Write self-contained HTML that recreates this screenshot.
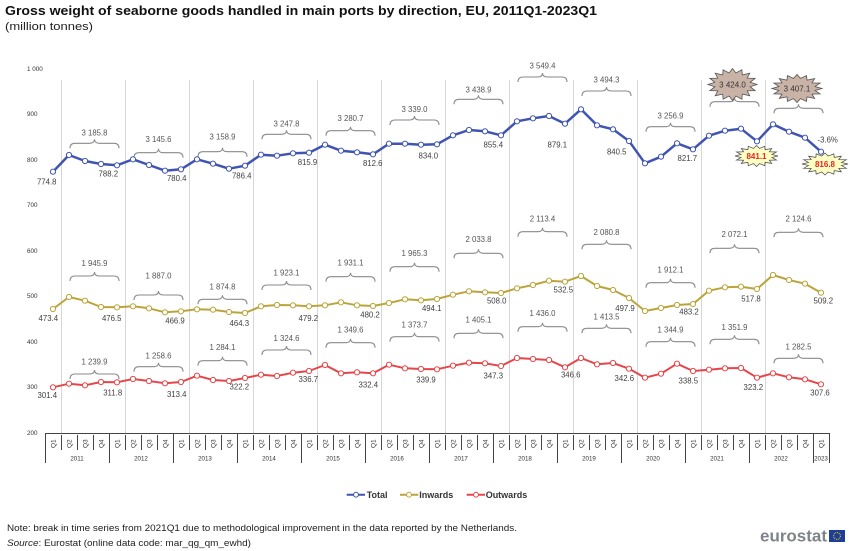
<!DOCTYPE html>
<html>
<head>
<meta charset="utf-8">
<style>
html,body{margin:0;padding:0;background:#fff;}
svg{display:block;font-family:"Liberation Sans",Arial,sans-serif;}
</style>
</head>
<body>
<svg width="850" height="551" viewBox="0 0 850 551" xmlns="http://www.w3.org/2000/svg">
<defs>
<marker id="mb" viewBox="-4 -4 8 8" markerWidth="8" markerHeight="8" refX="0" refY="0" markerUnits="userSpaceOnUse"><circle r="2.6" fill="#fff" stroke="#4054b2" stroke-width="1"/></marker>
<marker id="mg" viewBox="-4 -4 8 8" markerWidth="8" markerHeight="8" refX="0" refY="0" markerUnits="userSpaceOnUse"><circle r="2.6" fill="#fff" stroke="#bca43a" stroke-width="1"/></marker>
<marker id="mr" viewBox="-4 -4 8 8" markerWidth="8" markerHeight="8" refX="0" refY="0" markerUnits="userSpaceOnUse"><circle r="2.6" fill="#fff" stroke="#e6464a" stroke-width="1"/></marker>
</defs>

<!-- Title -->
<text x="5" y="15" font-size="13" font-weight="bold" fill="#111" textLength="592" lengthAdjust="spacingAndGlyphs">Gross weight of seaborne goods handled in main ports by direction, EU, 2011Q1-2023Q1</text>
<text x="5" y="30" font-size="11" fill="#222" textLength="88" lengthAdjust="spacingAndGlyphs">(million tonnes)</text>

<!-- Y labels -->
<g font-size="6.3" fill="#333">
<text x="27" y="71.2">1 000</text>
<text x="27" y="116.2">900</text>
<text x="27" y="162.2">800</text>
<text x="27" y="207.2">700</text>
<text x="27" y="253.2">600</text>
<text x="27" y="298.2">500</text>
<text x="27" y="344.2">400</text>
<text x="27" y="389.2">300</text>
<text x="27" y="435.2">200</text>
</g>

<!-- Vertical gridlines -->
<g stroke="#d6d6d6" stroke-width="1">
<path d="M61.5,80V433M125.5,80V433M189.5,80V433M253.5,80V433M317.5,80V433M381.5,80V433M445.5,80V433M509.5,80V433M573.5,80V433M637.5,80V433M701.5,80V433M765.5,80V433"/>
</g>

<!-- X axis -->
<g stroke="#444" stroke-width="1" fill="none">
<path d="M45,433.5H829.5"/>
<path d="M45.5,433V463M109.5,433V463M173.5,433V463M237.5,433V463M301.5,433V463M365.5,433V463M429.5,433V463M493.5,433V463M557.5,433V463M621.5,433V463M685.5,433V463M749.5,433V463M813.5,433V463M829.5,433V463"/>
<path d="M61.5,435V450M77.5,435V450M93.5,435V450M125.5,435V450M141.5,435V450M157.5,435V450M189.5,435V450M205.5,435V450M221.5,435V450M253.5,435V450M269.5,435V450M285.5,435V450M317.5,435V450M333.5,435V450M349.5,435V450M381.5,435V450M397.5,435V450M413.5,435V450M445.5,435V450M461.5,435V450M477.5,435V450M509.5,435V450M525.5,435V450M541.5,435V450M573.5,435V450M589.5,435V450M605.5,435V450M637.5,435V450M653.5,435V450M669.5,435V450M701.5,435V450M717.5,435V450M733.5,435V450M765.5,435V450M781.5,435V450M797.5,435V450"/>
</g>

<!-- Quarter labels -->
<g font-size="6.5" fill="#333">
<text transform="translate(55.5,448) rotate(-90)">Q1</text>
<text transform="translate(71.5,448) rotate(-90)">Q2</text>
<text transform="translate(87.5,448) rotate(-90)">Q3</text>
<text transform="translate(103.5,448) rotate(-90)">Q4</text>
<text transform="translate(119.5,448) rotate(-90)">Q1</text>
<text transform="translate(135.5,448) rotate(-90)">Q2</text>
<text transform="translate(151.5,448) rotate(-90)">Q3</text>
<text transform="translate(167.5,448) rotate(-90)">Q4</text>
<text transform="translate(183.5,448) rotate(-90)">Q1</text>
<text transform="translate(199.5,448) rotate(-90)">Q2</text>
<text transform="translate(215.5,448) rotate(-90)">Q3</text>
<text transform="translate(231.5,448) rotate(-90)">Q4</text>
<text transform="translate(247.5,448) rotate(-90)">Q1</text>
<text transform="translate(263.5,448) rotate(-90)">Q2</text>
<text transform="translate(279.5,448) rotate(-90)">Q3</text>
<text transform="translate(295.5,448) rotate(-90)">Q4</text>
<text transform="translate(311.5,448) rotate(-90)">Q1</text>
<text transform="translate(327.5,448) rotate(-90)">Q2</text>
<text transform="translate(343.5,448) rotate(-90)">Q3</text>
<text transform="translate(359.5,448) rotate(-90)">Q4</text>
<text transform="translate(375.5,448) rotate(-90)">Q1</text>
<text transform="translate(391.5,448) rotate(-90)">Q2</text>
<text transform="translate(407.5,448) rotate(-90)">Q3</text>
<text transform="translate(423.5,448) rotate(-90)">Q4</text>
<text transform="translate(439.5,448) rotate(-90)">Q1</text>
<text transform="translate(455.5,448) rotate(-90)">Q2</text>
<text transform="translate(471.5,448) rotate(-90)">Q3</text>
<text transform="translate(487.5,448) rotate(-90)">Q4</text>
<text transform="translate(503.5,448) rotate(-90)">Q1</text>
<text transform="translate(519.5,448) rotate(-90)">Q2</text>
<text transform="translate(535.5,448) rotate(-90)">Q3</text>
<text transform="translate(551.5,448) rotate(-90)">Q4</text>
<text transform="translate(567.5,448) rotate(-90)">Q1</text>
<text transform="translate(583.5,448) rotate(-90)">Q2</text>
<text transform="translate(599.5,448) rotate(-90)">Q3</text>
<text transform="translate(615.5,448) rotate(-90)">Q4</text>
<text transform="translate(631.5,448) rotate(-90)">Q1</text>
<text transform="translate(647.5,448) rotate(-90)">Q2</text>
<text transform="translate(663.5,448) rotate(-90)">Q3</text>
<text transform="translate(679.5,448) rotate(-90)">Q4</text>
<text transform="translate(695.5,448) rotate(-90)">Q1</text>
<text transform="translate(711.5,448) rotate(-90)">Q2</text>
<text transform="translate(727.5,448) rotate(-90)">Q3</text>
<text transform="translate(743.5,448) rotate(-90)">Q4</text>
<text transform="translate(759.5,448) rotate(-90)">Q1</text>
<text transform="translate(775.5,448) rotate(-90)">Q2</text>
<text transform="translate(791.5,448) rotate(-90)">Q3</text>
<text transform="translate(807.5,448) rotate(-90)">Q4</text>
<text transform="translate(823.5,448) rotate(-90)">Q1</text>
</g>

<!-- Year labels -->
<g font-size="6.2" fill="#333" text-anchor="middle">
<text x="77" y="460.5">2011</text>
<text x="141" y="460.5">2012</text>
<text x="205" y="460.5">2013</text>
<text x="269" y="460.5">2014</text>
<text x="333" y="460.5">2015</text>
<text x="397" y="460.5">2016</text>
<text x="461" y="460.5">2017</text>
<text x="525" y="460.5">2018</text>
<text x="589" y="460.5">2019</text>
<text x="653" y="460.5">2020</text>
<text x="717" y="460.5">2021</text>
<text x="781" y="460.5">2022</text>
<text x="821" y="460.5">2023</text>
</g>

<!-- Braces -->
<g stroke="#8a8a8a" stroke-width="1.1" fill="none">
<path d="M70,148.3q0,-5 5,-5h14.5q5,0 5,-4q0,4 5,4h14.5q5,0 5,5"/>
<path d="M134,157.7q0,-5 5,-5h14.5q5,0 5,-4q0,4 5,4h14.5q5,0 5,5"/>
<path d="M198,156.7q0,-5 5,-5h14.5q5,0 5,-4q0,4 5,4h14.5q5,0 5,5"/>
<path d="M262,139.3q0,-5 5,-5h14.5q5,0 5,-4q0,4 5,4h14.5q5,0 5,5"/>
<path d="M326,135.7q0,-5 5,-5h14.5q5,0 5,-4q0,4 5,4h14.5q5,0 5,5"/>
<path d="M390,125q0,-5 5,-5h14.5q5,0 5,-4q0,4 5,4h14.5q5,0 5,5"/>
<path d="M454,104.3q0,-5 5,-5h14.5q5,0 5,-4q0,4 5,4h14.5q5,0 5,5"/>
<path d="M518,82q0,-5 5,-5h14.5q5,0 5,-4q0,4 5,4h14.5q5,0 5,5"/>
<path d="M582,96q0,-5 5,-5h14.5q5,0 5,-4q0,4 5,4h14.5q5,0 5,5"/>
<path d="M646,131.7q0,-5 5,-5h14.5q5,0 5,-4q0,4 5,4h14.5q5,0 5,5"/>
<path d="M710,106.7q0,-5 5,-5h14.5q5,0 5,-4q0,4 5,4h14.5q5,0 5,5"/>
<path d="M774,113.3q0,-5 5,-5h14.5q5,0 5,-4q0,4 5,4h14.5q5,0 5,5"/>
<path d="M70,281q0,-5 5,-5h14.5q5,0 5,-4q0,4 5,4h14.5q5,0 5,5"/>
<path d="M134,300q0,-5 5,-5h14.5q5,0 5,-4q0,4 5,4h14.5q5,0 5,5"/>
<path d="M198,304.3q0,-5 5,-5h14.5q5,0 5,-4q0,4 5,4h14.5q5,0 5,5"/>
<path d="M262,290q0,-5 5,-5h14.5q5,0 5,-4q0,4 5,4h14.5q5,0 5,5"/>
<path d="M326,281.7q0,-5 5,-5h14.5q5,0 5,-4q0,4 5,4h14.5q5,0 5,5"/>
<path d="M390,271.7q0,-5 5,-5h14.5q5,0 5,-4q0,4 5,4h14.5q5,0 5,5"/>
<path d="M454,258.3q0,-5 5,-5h14.5q5,0 5,-4q0,4 5,4h14.5q5,0 5,5"/>
<path d="M518,236.7q0,-5 5,-5h14.5q5,0 5,-4q0,4 5,4h14.5q5,0 5,5"/>
<path d="M582,249.3q0,-5 5,-5h14.5q5,0 5,-4q0,4 5,4h14.5q5,0 5,5"/>
<path d="M646,287.7q0,-5 5,-5h14.5q5,0 5,-4q0,4 5,4h14.5q5,0 5,5"/>
<path d="M710,253.3q0,-5 5,-5h14.5q5,0 5,-4q0,4 5,4h14.5q5,0 5,5"/>
<path d="M774,237.3q0,-5 5,-5h14.5q5,0 5,-4q0,4 5,4h14.5q5,0 5,5"/>
<path d="M70,379q0,-5 5,-5h14.5q5,0 5,-4q0,4 5,4h14.5q5,0 5,5"/>
<path d="M134,371.7q0,-5 5,-5h14.5q5,0 5,-4q0,4 5,4h14.5q5,0 5,5"/>
<path d="M198,365.7q0,-5 5,-5h14.5q5,0 5,-4q0,4 5,4h14.5q5,0 5,5"/>
<path d="M262,355q0,-5 5,-5h14.5q5,0 5,-4q0,4 5,4h14.5q5,0 5,5"/>
<path d="M326,347.7q0,-5 5,-5h14.5q5,0 5,-4q0,4 5,4h14.5q5,0 5,5"/>
<path d="M390,341.7q0,-5 5,-5h14.5q5,0 5,-4q0,4 5,4h14.5q5,0 5,5"/>
<path d="M454,338.3q0,-5 5,-5h14.5q5,0 5,-4q0,4 5,4h14.5q5,0 5,5"/>
<path d="M518,331.7q0,-5 5,-5h14.5q5,0 5,-4q0,4 5,4h14.5q5,0 5,5"/>
<path d="M582,333.3q0,-5 5,-5h14.5q5,0 5,-4q0,4 5,4h14.5q5,0 5,5"/>
<path d="M646,346.7q0,-5 5,-5h14.5q5,0 5,-4q0,4 5,4h14.5q5,0 5,5"/>
<path d="M710,344.3q0,-5 5,-5h14.5q5,0 5,-4q0,4 5,4h14.5q5,0 5,5"/>
<path d="M774,363.3q0,-5 5,-5h14.5q5,0 5,-4q0,4 5,4h14.5q5,0 5,5"/>
</g>

<!-- Brace labels -->
<g font-size="7.8" fill="#555" text-anchor="middle">
<text x="94.5" y="135.4">3 185.8</text>
<text x="158.5" y="142">3 145.6</text>
<text x="222.5" y="139.4">3 158.9</text>
<text x="286.5" y="126.7">3 247.8</text>
<text x="350.5" y="121">3 280.7</text>
<text x="414.5" y="112">3 339.0</text>
<text x="478.5" y="92.7">3 438.9</text>
<text x="542.5" y="68.4">3 549.4</text>
<text x="606.5" y="82.7">3 494.3</text>
<text x="670.5" y="118.4">3 256.9</text>

<text x="94.5" y="266">1 945.9</text>
<text x="158.5" y="278.7">1 887.0</text>
<text x="222.5" y="289.4">1 874.8</text>
<text x="286.5" y="275.4">1 923.1</text>
<text x="350.5" y="265.4">1 931.1</text>
<text x="414.5" y="256">1 965.3</text>
<text x="478.5" y="242">2 033.8</text>
<text x="542.5" y="221.7">2 113.4</text>
<text x="606.5" y="235">2 080.8</text>
<text x="670.5" y="272.7">1 912.1</text>
<text x="734.5" y="237">2 072.1</text>
<text x="798.5" y="221.7">2 124.6</text>

<text x="94.5" y="364.4">1 239.9</text>
<text x="158.5" y="358.4">1 258.6</text>
<text x="222.5" y="350">1 284.1</text>
<text x="286.5" y="341">1 324.6</text>
<text x="350.5" y="332.7">1 349.6</text>
<text x="414.5" y="327.7">1 373.7</text>
<text x="478.5" y="322.7">1 405.1</text>
<text x="542.5" y="316">1 436.0</text>
<text x="606.5" y="319.4">1 413.5</text>
<text x="670.5" y="332.7">1 344.9</text>
<text x="734.5" y="330">1 351.9</text>
<text x="798.5" y="349.4">1 282.5</text>
</g>

<!-- Series -->
<polyline fill="none" stroke="#e6464a" stroke-width="2" stroke-linejoin="round" marker-start="url(#mr)" marker-mid="url(#mr)" marker-end="url(#mr)" points="53,387.3 69,383.7 85,385.3 101,382 117,382.3 133,379 149,381 165,383.3 181,382 197,375.7 213,380 229,381 245,378 261,374.7 277,376 293,372.7 309,371 325,365 341,373.3 357,372.3 373,373.3 389,364.7 405,368.3 421,369 437,369.3 453,365.7 469,362.7 485,363.3 501,366 517,358 533,359 549,360 565,367.3 581,358 597,364.3 613,363 629,368.7 645,377.7 661,373.7 677,363.7 693,371 709,369.7 725,368.3 741,368 757,377.7 773,373.3 789,377.3 805,379.3 821,384.3"/>
<polyline fill="none" stroke="#bca43a" stroke-width="2" stroke-linejoin="round" marker-start="url(#mg)" marker-mid="url(#mg)" marker-end="url(#mg)" points="53,309 69,297 85,300.7 101,307 117,307.3 133,306.3 149,308.3 165,312.3 181,311.3 197,309.3 213,309.7 229,312 245,313 261,306.3 277,305 293,305.3 309,306.3 325,305.3 341,302.3 357,305.3 373,306 389,303 405,299.3 421,300.3 437,299 453,294.7 469,291.3 485,292.3 501,293 517,288.3 533,285 549,280.7 565,281.7 581,276 597,286 613,290 629,298 645,311 661,308 677,305 693,304 709,290.7 725,287.3 741,286.7 757,289 773,275 789,280 805,283.7 821,292.7"/>
<polyline fill="none" stroke="#4054b2" stroke-width="2.5" stroke-linejoin="round" marker-start="url(#mb)" marker-mid="url(#mb)" marker-end="url(#mb)" points="53,171.7 69,155 85,161 101,164 117,165.3 133,159.3 149,165 165,170.7 181,169.3 197,159.3 213,163.7 229,168.7 245,165.7 261,154.7 277,155.7 293,153.3 309,152.7 325,144.7 341,150.7 357,152.3 373,154.3 389,143.7 405,143.7 421,144.7 437,144.3 453,135.3 469,130 485,131.3 501,135.3 517,121.3 533,118.3 549,116 565,123.7 581,109.3 597,125.3 613,129.3 629,141 645,163.3 661,156.7 677,143.3 693,149.3 709,135.7 725,130.7 741,128.7 757,141.3 773,124.3 789,131.7 805,137.7 821,151.7"/>

<!-- Value labels -->
<g font-size="7.8" fill="#404040" text-anchor="middle">
<text x="46.7" y="184.4">774.8</text>
<text x="108.3" y="176.7">788.2</text>
<text x="176.7" y="181">780.4</text>
<text x="241.7" y="178.7">786.4</text>
<text x="307.5" y="165.2">815.9</text>
<text x="372.7" y="166">812.6</text>
<text x="428.3" y="158.4">834.0</text>
<text x="493.3" y="147.7">855.4</text>
<text x="557.3" y="147.4">879.1</text>
<text x="616.7" y="154.4">840.5</text>
<text x="687.3" y="161">821.7</text>
<text x="827.7" y="142.7">-3.6%</text>

<text x="48.3" y="321">473.4</text>
<text x="111.7" y="321">476.5</text>
<text x="175" y="323.4">466.9</text>
<text x="239.3" y="326">464.3</text>
<text x="308.3" y="321">479.2</text>
<text x="370" y="317.7">480.2</text>
<text x="431.7" y="311">494.1</text>
<text x="496.7" y="303.4">508.0</text>
<text x="563.3" y="292.7">532.5</text>
<text x="625" y="311">497.9</text>
<text x="689" y="314.4">483.2</text>
<text x="751" y="301.4">517.8</text>
<text x="823.3" y="303.4">509.2</text>

<text x="47.3" y="398">301.4</text>
<text x="112.7" y="395.4">311.8</text>
<text x="176.7" y="397">313.4</text>
<text x="239.3" y="389.4">322.2</text>
<text x="308.3" y="382">336.7</text>
<text x="368.3" y="387.7">332.4</text>
<text x="426" y="382.7">339.9</text>
<text x="493.3" y="378.4">347.3</text>
<text x="570.7" y="377.7">346.6</text>
<text x="624.3" y="381">342.6</text>
<text x="688.3" y="383.4">338.5</text>
<text x="753.3" y="390">323.2</text>
<text x="820" y="395.4">307.6</text>
</g>

<!-- Starbursts -->
<g stroke="#555" stroke-width="0.8">
<polygon transform="translate(732.5,84.5) scale(24.5,16)" vector-effect="non-scaling-stroke" fill="#c9b3a7" points="1,0 .72,.14 .924,.383 .6,.4 .707,.707 .4,.6 .383,.924 .14,.72 0,1 -.14,.72 -.383,.924 -.4,.6 -.707,.707 -.6,.4 -.924,.383 -.72,.14 -1,0 -.72,-.14 -.924,-.383 -.6,-.4 -.707,-.707 -.4,-.6 -.383,-.924 -.14,-.72 0,-1 .14,-.72 .383,-.924 .4,-.6 .707,-.707 .6,-.4 .924,-.383 .72,-.14"/>
<polygon transform="translate(797,88.5) scale(25,14)" vector-effect="non-scaling-stroke" fill="#c9b3a7" points="1,0 .72,.14 .924,.383 .6,.4 .707,.707 .4,.6 .383,.924 .14,.72 0,1 -.14,.72 -.383,.924 -.4,.6 -.707,.707 -.6,.4 -.924,.383 -.72,.14 -1,0 -.72,-.14 -.924,-.383 -.6,-.4 -.707,-.707 -.4,-.6 -.383,-.924 -.14,-.72 0,-1 .14,-.72 .383,-.924 .4,-.6 .707,-.707 .6,-.4 .924,-.383 .72,-.14"/>
<polygon transform="translate(756.5,156) scale(21.5,10.5)" vector-effect="non-scaling-stroke" fill="#ffffc4" points="1,0 .72,.14 .924,.383 .6,.4 .707,.707 .4,.6 .383,.924 .14,.72 0,1 -.14,.72 -.383,.924 -.4,.6 -.707,.707 -.6,.4 -.924,.383 -.72,.14 -1,0 -.72,-.14 -.924,-.383 -.6,-.4 -.707,-.707 -.4,-.6 -.383,-.924 -.14,-.72 0,-1 .14,-.72 .383,-.924 .4,-.6 .707,-.707 .6,-.4 .924,-.383 .72,-.14"/>
<polygon transform="translate(825,164) scale(23,11)" vector-effect="non-scaling-stroke" fill="#ffffc4" points="1,0 .72,.14 .924,.383 .6,.4 .707,.707 .4,.6 .383,.924 .14,.72 0,1 -.14,.72 -.383,.924 -.4,.6 -.707,.707 -.6,.4 -.924,.383 -.72,.14 -1,0 -.72,-.14 -.924,-.383 -.6,-.4 -.707,-.707 -.4,-.6 -.383,-.924 -.14,-.72 0,-1 .14,-.72 .383,-.924 .4,-.6 .707,-.707 .6,-.4 .924,-.383 .72,-.14"/>
</g>
<g font-size="8" text-anchor="middle">
<text x="732.5" y="87.5" fill="#333">3 424.0</text>
<text x="797" y="91.5" fill="#333">3 407.1</text>
<text x="756.5" y="159" fill="#f02020" font-weight="bold">841.1</text>
<text x="825" y="167" fill="#f02020" font-weight="bold">816.8</text>
</g>

<!-- Legend -->
<g>
<line x1="346.7" y1="494.7" x2="365" y2="494.7" stroke="#4054b2" stroke-width="2"/>
<circle cx="356" cy="494.7" r="2.4" fill="#fff" stroke="#4054b2" stroke-width="1"/>
<line x1="400" y1="494.7" x2="418.3" y2="494.7" stroke="#bca43a" stroke-width="2"/>
<circle cx="409" cy="494.7" r="2.4" fill="#fff" stroke="#bca43a" stroke-width="1"/>
<line x1="466.7" y1="494.7" x2="485" y2="494.7" stroke="#e6464a" stroke-width="2"/>
<circle cx="476" cy="494.7" r="2.4" fill="#fff" stroke="#e6464a" stroke-width="1"/>
<g font-size="9" font-weight="bold" fill="#333">
<text x="366.7" y="498">Total</text>
<text x="419.3" y="498">Inwards</text>
<text x="485.7" y="498">Outwards</text>
</g>
</g>

<!-- Footer -->
<text x="7" y="531" font-size="9" fill="#222" textLength="510" lengthAdjust="spacingAndGlyphs">Note: break in time series from 2021Q1 due to methodological improvement in the data reported by the Netherlands.</text>
<text x="7" y="546" font-size="9" fill="#222" textLength="244" lengthAdjust="spacingAndGlyphs"><tspan font-style="italic">Source</tspan>: Eurostat (online data code: mar_qg_qm_ewhd)</text>

<!-- Eurostat logo -->
<text x="760" y="541.5" font-size="17" font-weight="bold" fill="#7e8489" textLength="67" lengthAdjust="spacingAndGlyphs">eurostat</text>
<rect x="829" y="530" width="16" height="12" fill="#1d3f98"/>
<circle cx="837" cy="536" r="3.4" fill="none" stroke="#ffd400" stroke-width="1" stroke-dasharray="0.9 0.88"/>
</svg>
</body>
</html>
